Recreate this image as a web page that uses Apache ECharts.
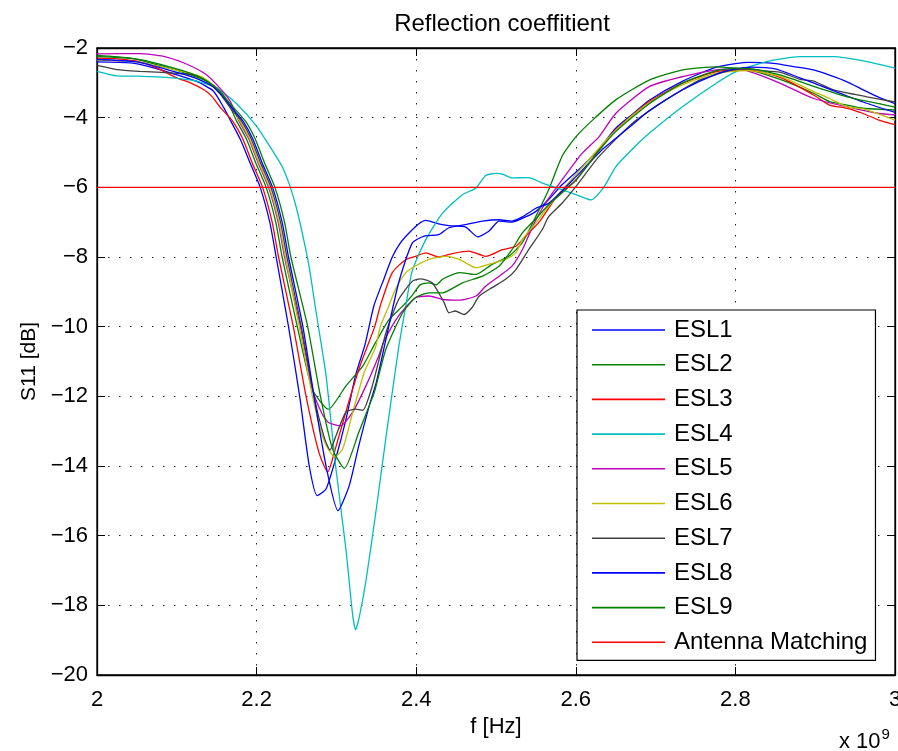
<!DOCTYPE html>
<html>
<head>
<meta charset="utf-8">
<script src="https://cdn.jsdelivr.net/npm/echarts@6/dist/echarts.min.js"></script>
<style>html,body{margin:0;padding:0;background:#fff}#c{width:898px;height:751px}</style>
</head>
<body>
<div id="c"></div>
<script>
// Frequency in units of 1e9 Hz, S11 in dB
const ESL1 = [[2.0,-2.4],[2.042,-2.43],[2.071,-2.57],[2.1,-2.77],[2.125,-2.96],[2.146,-3.24],[2.159,-3.72],[2.167,-4.07],[2.18,-4.64],[2.192,-5.31],[2.2045,-6.0],[2.2165,-7.0],[2.2245,-8.0],[2.24,-10.0],[2.254,-12.0],[2.266,-14.0],[2.276,-14.85],[2.287,-14.66],[2.299,-13.8],[2.312,-12.66],[2.324,-11.4],[2.336,-10.5],[2.347,-9.4],[2.36,-8.6],[2.37,-8.0],[2.38,-7.6],[2.391,-7.31],[2.403,-7.05],[2.412,-6.95],[2.428,-7.05],[2.441,-7.1],[2.462,-7.14],[2.477,-7.42],[2.491,-7.26],[2.504,-6.97],[2.52,-7.0],[2.537,-6.85],[2.55,-6.69],[2.566,-6.35],[2.583,-5.92],[2.608,-5.4],[2.629,-4.9],[2.65,-4.3],[2.671,-3.9],[2.692,-3.5],[2.734,-2.95],[2.776,-2.55],[2.8,-2.45],[2.816,-2.41],[2.848,-2.44],[2.875,-2.54],[2.898,-2.63],[2.918,-2.78],[2.94,-2.97],[2.96,-3.2],[2.98,-3.42],[3.0,-3.6]];
const ESL2 = [[2.0,-2.21],[2.042,-2.29],[2.0835,-2.53],[2.117,-2.77],[2.138,-2.96],[2.1545,-3.24],[2.165,-3.6],[2.175,-4.1],[2.187,-4.6],[2.199,-5.3],[2.212,-6.0],[2.224,-7.0],[2.232,-8.0],[2.251,-10.0],[2.27,-11.8],[2.29,-12.37],[2.312,-11.7],[2.333,-11.13],[2.349,-10.46],[2.366,-9.8],[2.383,-9.41],[2.395,-9.1],[2.405,-8.8],[2.416,-8.74],[2.425,-8.8],[2.433,-8.64],[2.454,-8.45],[2.475,-8.5],[2.495,-8.21],[2.516,-7.98],[2.533,-7.59],[2.55,-6.83],[2.566,-6.07],[2.583,-5.1],[2.6,-4.55],[2.621,-4.07],[2.65,-3.49],[2.692,-2.92],[2.734,-2.63],[2.776,-2.54],[2.816,-2.63],[2.84,-2.78],[2.87,-3.02],[2.898,-3.3],[2.918,-3.54],[2.94,-3.64],[2.96,-3.73],[3.0,-3.78]];
const ESL3 = [[2.0,-2.29],[2.025,-2.31],[2.05,-2.38],[2.075,-2.57],[2.1,-2.86],[2.117,-3.0],[2.134,-3.2],[2.144,-3.39],[2.155,-3.72],[2.17,-4.1],[2.1825,-4.6],[2.1945,-5.3],[2.2075,-6.0],[2.2195,-7.0],[2.2275,-8.0],[2.246,-10.0],[2.262,-12.0],[2.278,-13.6],[2.289,-14.17],[2.3,-13.4],[2.315,-12.2],[2.33,-11.1],[2.348,-10.0],[2.355,-9.4],[2.37,-8.45],[2.387,-8.07],[2.399,-7.98],[2.412,-7.88],[2.428,-8.0],[2.445,-7.9],[2.466,-7.83],[2.487,-7.98],[2.508,-7.79],[2.525,-7.69],[2.537,-7.4],[2.554,-7.0],[2.566,-6.6],[2.575,-6.3],[2.6,-5.79],[2.629,-4.93],[2.65,-4.35],[2.692,-3.54],[2.734,-3.01],[2.776,-2.68],[2.816,-2.63],[2.857,-2.85],[2.898,-3.35],[2.918,-3.64],[2.94,-3.73],[2.96,-3.88],[2.98,-4.07],[3.0,-4.2]];
const ESL4 = [[2.0,-2.67],[2.025,-2.8],[2.05,-2.81],[2.09,-2.85],[2.125,-2.95],[2.15,-3.15],[2.175,-3.6],[2.2,-4.25],[2.22,-4.95],[2.232,-5.4],[2.242,-5.98],[2.25,-6.6],[2.259,-7.5],[2.266,-8.3],[2.274,-9.5],[2.287,-11.4],[2.299,-14.0],[2.312,-16.4],[2.32,-18.2],[2.324,-18.7],[2.329,-18.3],[2.337,-17.3],[2.349,-15.4],[2.362,-13.2],[2.378,-10.6],[2.387,-9.4],[2.395,-8.4],[2.412,-7.5],[2.433,-6.74],[2.458,-6.21],[2.475,-6.02],[2.487,-5.66],[2.5,-5.6],[2.508,-5.62],[2.52,-5.73],[2.541,-5.72],[2.558,-5.88],[2.583,-6.07],[2.605,-6.25],[2.619,-6.36],[2.635,-6.0],[2.65,-5.41],[2.671,-4.9],[2.692,-4.45],[2.734,-3.68],[2.776,-3.01],[2.801,-2.68],[2.839,-2.39],[2.881,-2.25],[2.923,-2.25],[2.965,-2.39],[3.0,-2.58]];
const ESL5 = [[2.0,-2.17],[2.054,-2.16],[2.0835,-2.24],[2.109,-2.43],[2.134,-2.72],[2.15,-3.05],[2.167,-3.53],[2.178,-4.1],[2.19,-4.6],[2.202,-5.3],[2.215,-6.0],[2.227,-7.0],[2.235,-8.0],[2.255,-10.0],[2.27,-11.8],[2.282,-12.5],[2.29,-12.75],[2.305,-12.85],[2.32,-12.47],[2.337,-11.7],[2.353,-10.84],[2.36,-10.4],[2.378,-9.69],[2.399,-9.17],[2.416,-9.12],[2.433,-9.22],[2.454,-9.24],[2.475,-9.12],[2.487,-8.84],[2.504,-8.55],[2.52,-8.26],[2.533,-7.79],[2.546,-7.12],[2.562,-6.45],[2.583,-5.78],[2.608,-5.02],[2.629,-4.55],[2.65,-3.88],[2.692,-3.11],[2.734,-2.82],[2.776,-2.63],[2.8,-2.6],[2.818,-2.68],[2.857,-3.02],[2.898,-3.45],[2.94,-3.69],[2.98,-3.88],[3.0,-3.92]];
const ESL6 = [[2.0,-2.35],[2.05,-2.4],[2.096,-2.62],[2.121,-2.75],[2.134,-2.86],[2.15,-3.15],[2.165,-3.6],[2.179,-4.1],[2.191,-4.6],[2.203,-5.3],[2.216,-6.0],[2.228,-7.0],[2.236,-8.0],[2.2535,-10.0],[2.27,-12.0],[2.285,-13.3],[2.298,-13.74],[2.308,-13.5],[2.32,-12.5],[2.335,-11.3],[2.349,-10.6],[2.355,-10.0],[2.364,-9.5],[2.374,-8.93],[2.387,-8.45],[2.399,-8.26],[2.416,-8.07],[2.437,-7.98],[2.454,-8.07],[2.475,-8.31],[2.491,-8.21],[2.512,-8.07],[2.525,-7.88],[2.533,-7.5],[2.55,-7.02],[2.566,-6.54],[2.587,-5.97],[2.613,-5.3],[2.64,-4.6],[2.67,-3.95],[2.7,-3.45],[2.734,-3.05],[2.776,-2.72],[2.816,-2.65],[2.857,-2.82],[2.898,-3.25],[2.918,-3.45],[2.94,-3.69],[2.96,-3.75],[2.98,-3.9],[3.0,-4.07]];
const ESL7 = [[2.0,-2.5],[2.025,-2.62],[2.054,-2.67],[2.096,-2.72],[2.121,-2.77],[2.138,-2.96],[2.155,-3.34],[2.168,-3.75],[2.181,-4.1],[2.193,-4.6],[2.205,-5.3],[2.218,-6.0],[2.23,-7.0],[2.238,-8.0],[2.256,-10.0],[2.272,-12.0],[2.285,-13.2],[2.292,-13.54],[2.3,-13.1],[2.312,-12.45],[2.324,-12.37],[2.333,-12.4],[2.345,-11.7],[2.362,-10.18],[2.378,-9.22],[2.395,-8.7],[2.405,-8.63],[2.42,-8.74],[2.435,-9.31],[2.441,-9.6],[2.449,-9.55],[2.46,-9.65],[2.47,-9.45],[2.479,-9.12],[2.495,-8.88],[2.512,-8.64],[2.525,-8.36],[2.541,-7.79],[2.558,-7.21],[2.566,-6.84],[2.583,-6.45],[2.6,-5.98],[2.629,-5.12],[2.671,-4.16],[2.713,-3.49],[2.755,-2.92],[2.797,-2.63],[2.816,-2.6],[2.839,-2.66],[2.857,-2.7],[2.881,-2.9],[2.898,-2.95],[2.923,-3.2],[2.965,-3.4],[3.0,-3.55]];
const ESL8 = [[2.0,-2.33],[2.05,-2.4],[2.1,-2.7],[2.125,-2.88],[2.146,-3.12],[2.16,-3.45],[2.172,-3.8],[2.183,-4.1],[2.195,-4.6],[2.207,-5.3],[2.22,-6.0],[2.232,-7.0],[2.24,-8.0],[2.258,-10.0],[2.272,-12.0],[2.287,-14.0],[2.302,-15.28],[2.316,-14.57],[2.328,-13.42],[2.341,-12.28],[2.35,-11.6],[2.362,-10.37],[2.378,-8.74],[2.395,-7.6],[2.41,-7.4],[2.428,-7.36],[2.441,-7.16],[2.462,-7.07],[2.483,-6.97],[2.504,-6.93],[2.52,-6.97],[2.533,-6.85],[2.55,-6.6],[2.566,-6.46],[2.583,-6.1],[2.6,-5.7],[2.633,-4.92],[2.65,-4.6],[2.671,-4.2],[2.692,-3.8],[2.734,-3.2],[2.776,-2.75],[2.8,-2.6],[2.82,-2.55],[2.85,-2.6],[2.88,-2.85],[2.92,-3.2],[2.96,-3.55],[3.0,-3.85]];
const ESL9 = [[2.0,-2.25],[2.05,-2.32],[2.1,-2.6],[2.13,-2.85],[2.15,-3.15],[2.165,-3.55],[2.186,-4.1],[2.198,-4.6],[2.21,-5.3],[2.223,-6.0],[2.235,-7.0],[2.243,-8.0],[2.264,-10.0],[2.28,-12.0],[2.295,-13.5],[2.31,-14.07],[2.328,-13.04],[2.341,-12.28],[2.348,-11.85],[2.362,-10.65],[2.383,-9.6],[2.399,-9.17],[2.416,-9.03],[2.433,-9.03],[2.458,-8.74],[2.483,-8.55],[2.504,-8.26],[2.52,-7.79],[2.533,-7.31],[2.55,-6.9],[2.566,-6.5],[2.6,-5.8],[2.629,-4.95],[2.65,-4.4],[2.692,-3.6],[2.734,-3.0],[2.776,-2.65],[2.8,-2.58],[2.82,-2.6],[2.857,-2.78],[2.898,-3.1],[2.94,-3.4],[2.98,-3.6],[3.0,-3.7]];
const ANTENNA = [[2.0,-6.0],[3.0,-6.0]];

const seriesNames = ['ESL1','ESL2','ESL3','ESL4','ESL5','ESL6','ESL7','ESL8','ESL9','Antenna Matching'];
const seriesData = [ESL1,ESL2,ESL3,ESL4,ESL5,ESL6,ESL7,ESL8,ESL9,ANTENNA];
const seriesColors = ['#0000ff','#008000','#ff0000','#00bfbf','#bf00bf','#bfbf00','#404040','#0000ff','#008000','#ff0000'];
const xTicks = {min:2, max:3, interval:0.2};
const yTicks = {min:-20, max:-2, interval:2};

const FONT = 'Liberation Sans, Arial, Helvetica, sans-serif';
const fmtNum = v => { const r = Math.round(v*10)/10; return (r<0?'\u2212':'') + Math.abs(r); };

const chart = echarts.init(document.getElementById('c'), null, {renderer:'canvas'});
const gridStyle = {show:true, lineStyle:{color:'#222', width:1, type:[1.5,9.5]}};
const option = {
  backgroundColor:'#fff',
  animation:false,
  title:{text:'Reflection coeffitient', left:497, top:7, textAlign:'center',
    textStyle:{fontFamily:FONT, fontSize:24, fontWeight:'normal', color:'#000'}},
  grid:{left:97, top:48, width:798, height:627, containLabel:false, outerBoundsMode:'none',
    show:true, borderColor:'#000', borderWidth:1.3, backgroundColor:'transparent'},
  xAxis:[{
    type:'value', min:xTicks.min, max:xTicks.max, interval:xTicks.interval,
    name:'f [Hz]', nameLocation:'middle', nameGap:33,
    nameTextStyle:{fontFamily:FONT, fontSize:22, color:'#000', verticalAlign:'top'},
    axisLine:{show:true, onZero:false, lineStyle:{color:'#000', width:1.3}},
    axisTick:{show:true, inside:true, length:8, lineStyle:{color:'#000'}},
    axisLabel:{fontFamily:FONT, fontSize:22, color:'#000', margin:14, formatter:fmtNum},
    splitLine:gridStyle
  },{
    type:'value', position:'top', min:xTicks.min, max:xTicks.max, interval:xTicks.interval,
    axisLine:{show:true, onZero:false, lineStyle:{color:'#000', width:1.3}},
    axisTick:{show:true, inside:true, length:8, lineStyle:{color:'#000'}},
    axisLabel:{show:false}, splitLine:{show:false}
  }],
  yAxis:[{
    type:'value', min:yTicks.min, max:yTicks.max, interval:yTicks.interval,
    name:'S11 [dB]', nameLocation:'middle', nameGap:57, nameRotate:90,
    nameTextStyle:{fontFamily:FONT, fontSize:21, color:'#000'},
    axisLine:{show:true, onZero:false, lineStyle:{color:'#000', width:1.3}},
    axisTick:{show:true, inside:true, length:8, lineStyle:{color:'#000'}},
    axisLabel:{fontFamily:FONT, fontSize:22, color:'#000', margin:9, formatter:fmtNum},
    splitLine:gridStyle
  },{
    type:'value', position:'right', min:yTicks.min, max:yTicks.max, interval:yTicks.interval,
    axisLine:{show:true, onZero:false, lineStyle:{color:'#000', width:1.3}},
    axisTick:{show:true, inside:true, length:8, lineStyle:{color:'#000'}},
    axisLabel:{show:false}, splitLine:{show:false}
  }],
  legend:{
    orient:'vertical', left:577, top:310, selectedMode:false,
    backgroundColor:'#fff', borderColor:'#000', borderWidth:1.2,
    padding:[6,8,4,15], itemWidth:73, itemHeight:1.6, itemGap:6.7, icon:'rect',
    textStyle:{fontFamily:FONT, fontSize:24, color:'#000', lineHeight:28, padding:[0,0,0,4]},
    data:seriesNames
  },
  graphic:[{
    type:'text', left:839, top:727,
    style:{text:'x 10{s|9}', fontFamily:FONT, fontSize:22, fill:'#000',
      rich:{s:{fontFamily:FONT, fontSize:15, verticalAlign:'top', padding:[0,0,14,1]}}}
  }],
  series: seriesNames.map((n,i)=>({
    name:n, type:'line', data:seriesData[i], symbol:'none', showSymbol:false,
    smooth: i===9 ? false : 0.2, z: 2+i,
    lineStyle:{color:seriesColors[i], width:1.3},
    itemStyle:{color:seriesColors[i]}
  }))
};
chart.setOption(option);
</script>
</body>
</html>
